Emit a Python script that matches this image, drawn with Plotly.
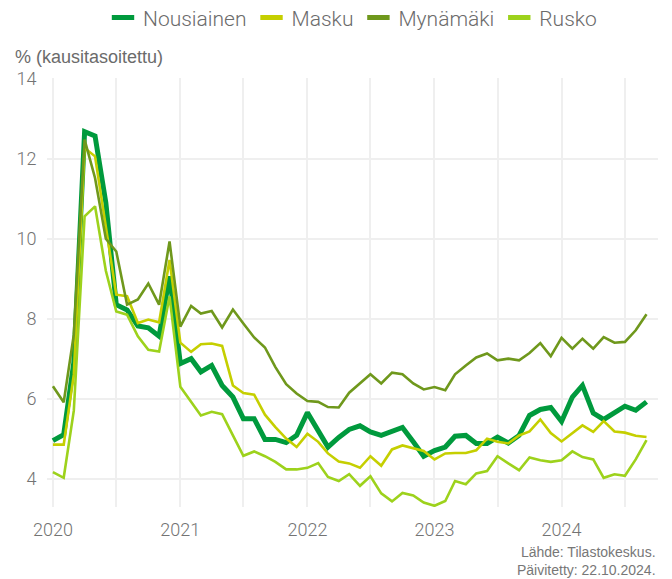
import pandas as pd
import plotly.graph_objects as go

months = pd.date_range("2020-01-01", periods=57, freq="MS")

nousiainen = [4.95, 5.1, 6.9, 12.68, 12.57, 10.9, 8.35, 8.22, 7.82, 7.77, 7.56, 9.06,
              6.88, 7.0, 6.67, 6.83, 6.33, 6.04, 5.5, 5.5, 4.98, 4.98, 4.9, 5.08,
              5.65, 5.21, 4.79, 5.03, 5.23, 5.32, 5.17, 5.08, 5.18, 5.28, 4.92, 4.56,
              4.7, 4.79, 5.06, 5.08, 4.88, 4.88, 5.04, 4.89, 5.08, 5.58, 5.73, 5.78,
              5.43, 6.04, 6.33, 5.64, 5.48, 5.63, 5.81, 5.71, 5.92]
masku = [4.85, 4.85, 6.6, 12.27, 12.06, 10.3, 8.6, 8.56, 7.89, 7.98, 7.91, 9.47,
         7.4, 7.17, 7.36, 7.38, 7.32, 6.33, 6.14, 6.1, 5.6, 5.29, 5.0, 4.79,
         5.12, 4.92, 4.63, 4.43, 4.38, 4.27, 4.56, 4.32, 4.73, 4.83, 4.75, 4.69,
         4.48, 4.63, 4.64, 4.64, 4.71, 5.0, 4.92, 4.88, 5.08, 5.18, 5.48, 5.14,
         4.93, 5.13, 5.33, 5.17, 5.44, 5.18, 5.15, 5.07, 5.04]
mynamaki = [6.31, 5.91, 7.6, 12.48, 11.52, 10.0, 9.68, 8.35, 8.48, 8.88, 8.35, 9.93,
            7.8, 8.32, 8.13, 8.19, 7.78, 8.23, 7.88, 7.53, 7.28, 6.79, 6.36, 6.13,
            5.94, 5.92, 5.79, 5.78, 6.15, 6.38, 6.61, 6.38, 6.65, 6.61, 6.38, 6.23,
            6.29, 6.21, 6.61, 6.83, 7.03, 7.13, 6.96, 7.0, 6.96, 7.14, 7.39, 7.06,
            7.52, 7.25, 7.5, 7.25, 7.54, 7.4, 7.42, 7.71, 8.11]
rusko = [4.16, 4.02, 5.7, 10.56, 10.81, 9.2, 8.18, 8.1, 7.56, 7.22, 7.18, 8.56,
         6.3, 5.92, 5.58, 5.67, 5.61, 5.08, 4.57, 4.68, 4.56, 4.42, 4.23, 4.23,
         4.27, 4.39, 4.04, 3.94, 4.11, 3.82, 4.06, 3.63, 3.43, 3.64, 3.58, 3.4,
         3.32, 3.44, 3.94, 3.86, 4.13, 4.19, 4.56, 4.38, 4.21, 4.53, 4.46, 4.42,
         4.46, 4.68, 4.54, 4.48, 4.02, 4.11, 4.07, 4.48, 4.96]

series_names = ["Nousiainen", "Masku", "Mynämäki", "Rusko"]
series_values = [nousiainen, masku, mynamaki, rusko]
colors = ["#009a3d", "#c5cf00", "#6f981c", "#9dd21c"]
widths = [5, 2.6, 2.6, 2.6]

fig = go.Figure()
for name, vals, c, w in zip(series_names, series_values, colors, widths):
    fig.add_trace(go.Scatter(x=months, y=vals, mode="lines", name=name,
                             line=dict(color=c, width=w), showlegend=False))
for name, c in zip(series_names, colors):
    fig.add_trace(go.Scatter(x=[None], y=[None], mode="markers", name=name,
                             marker=dict(symbol="line-ew", size=16,
                                         line=dict(color=c, width=6))))

grid = "#efefef"
tickfont = dict(family="Roboto, Lato, sans-serif", size=18, color="#737373", weight=300)

fig.update_layout(
    width=664, height=571,
    margin=dict(l=39, r=14, t=70, b=72, autoexpand=False),
    paper_bgcolor="white", plot_bgcolor="white",
    legend=dict(orientation="h", x=0.5, xanchor="center", y=1.14, yref="paper",
                yanchor="middle",
                font=dict(family="Roboto, Lato, sans-serif", size=21, color="#6b6b6b", weight=300),
                itemsizing="trace", tracegroupgap=0),
    xaxis=dict(range=["2019-12-15", "2024-10-04"], type="date", automargin=False,
               tick0="2020-01-01", dtick="M12", tickformat="%Y",
               showgrid=True, gridcolor=grid, gridwidth=2,
               minor=dict(dtick="M6", showgrid=True, gridcolor=grid, gridwidth=2),
               ticks="outside", ticklen=6, tickcolor="rgba(0,0,0,0)",
               tickfont=tickfont, zeroline=False, showline=False),
    yaxis=dict(range=[3.29, 14.02], tick0=4, dtick=2, automargin=False,
               showgrid=True, gridcolor=grid, gridwidth=2,
               ticks="outside", ticklen=6, tickcolor="rgba(0,0,0,0)",
               tickfont=tickfont, zeroline=False, showline=False),
    annotations=[
        dict(text="% (kausitasoitettu)", xref="paper", yref="paper",
             x=-0.0556, y=1.049, xanchor="left", yanchor="middle", showarrow=False,
             font=dict(family="Liberation Sans, Arial, sans-serif", size=18, color="#6b6b6b")),
        dict(text="Lähde: Tilastokeskus.<br>Päivitetty: 22.10.2024.", xref="paper", yref="paper",
             x=1.0, y=-0.082, xanchor="right", yanchor="top", align="right", showarrow=False,
             font=dict(family="Liberation Sans, Arial, sans-serif", size=14, color="#777777")),
    ],
)

fig.write_html("out.html")
